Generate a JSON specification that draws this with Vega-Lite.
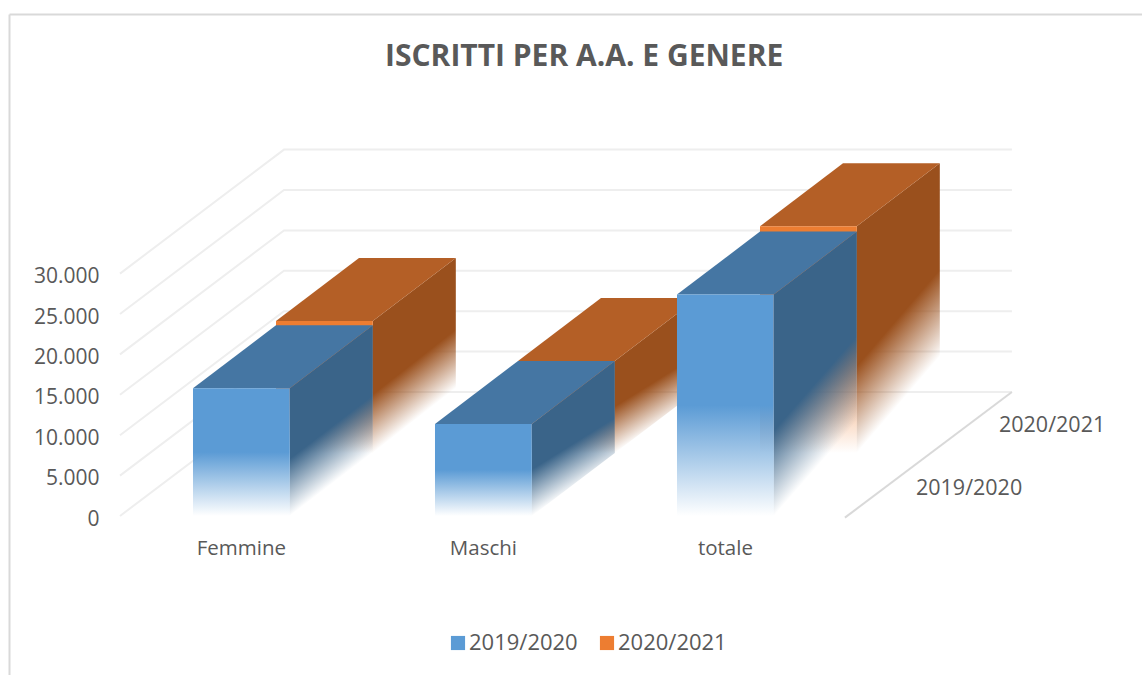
{
"$schema":"https://vega.github.io/schema/vega-lite/v6.json",
"width":1133,"height":661,
"padding":{"left":9,"top":14,"right":0,"bottom":0},
"autosize":"none",
"background":"white",
"config":{"view":{"stroke":null},"font":"Open Sans"},
"title":{"text":"ISCRITTI PER A.A. E GENERE","anchor":"start","frame":"group","dx":376,"dy":58,"offset":0,"fontSize":30,"font":"Open Sans","fontWeight":"bold","color":"#595959"},
"datasets":{
"bars":[
{"category":"Femmine","year":"2019/2020","value":15800},
{"category":"Maschi","year":"2019/2020","value":11400},
{"category":"totale","year":"2019/2020","value":27400},
{"category":"Femmine","year":"2020/2021","value":16350},
{"category":"Maschi","year":"2020/2021","value":11400},
{"category":"totale","year":"2020/2021","value":28050}],
"ticks":[{"tick":0},{"tick":5000},{"tick":10000},{"tick":15000},{"tick":20000},{"tick":25000},{"tick":30000}]
},
"data":{"name":"bars"},
"transform":[
{"calculate":"indexof(['Femmine','Maschi','totale'],datum.category)","as":"i"},
{"calculate":"datum.year==='2019/2020'?0:1","as":"s"}
],
"encoding":{
"x":{"field":"xx","type":"quantitative","scale":{"domain":[-0.7603,3.9215],"nice":false,"zero":false},
"axis":{"orient":"top","title":null,"labels":false,"ticks":false,"grid":false,"domain":true,"domainColor":"#d9d9d9","domainWidth":2}},
"y":{"field":"yy","type":"quantitative","scale":{"domain":[-19678,62129],"nice":false,"zero":false},
"axis":{"title":null,"values":[0,5000,10000,15000,20000,25000,30000],"domain":true,"domainColor":"#d9d9d9","domainWidth":2,"ticks":false,"grid":false,"labelPadding":-90,"labelOffset":3,"labelFont":"Open Sans","labelFontSize":21,"labelColor":"#595959","labelExpr":"replace(format(datum.value,','),',','.')"}}
},
"layer":[
{"data":{"name":"ticks"},
"transform":[{"calculate":"[0,1,2]","as":"d"},{"flatten":["d"]},
{"calculate":"[-0.3017,0.376,3.384][datum.d]","as":"xx"},
{"calculate":"datum.tick+(datum.d>0?15347:0)","as":"yy"}],
"mark":{"type":"line","stroke":"#eeeeee","strokeWidth":2},
"encoding":{"detail":{"field":"tick"}}},
{"data":{"values":[{"corner":0},{"corner":1}]},
"transform":[{"calculate":"[2.694,3.384][datum.corner]","as":"xx"},{"calculate":"[-200,15347][datum.corner]","as":"yy"}],
"mark":{"type":"line","stroke":"#d9d9d9","strokeWidth":2},"encoding":{}},

{"transform":[{"filter":"datum.s===1"},{"calculate":"[0,1]","as":"d"},{"flatten":["d"]},
{"calculate":"datum.i+datum.s*0.343+0.4+datum.d*0.343","as":"xx"},
{"calculate":"datum.value+(datum.s+datum.d)*7797","as":"yy"},
{"calculate":"(datum.s+datum.d)*7797","as":"yb"}],
"mark":{"type":"area","fill":{"gradient":"linear","x1":0,"y1":0,"x2":0.3,"y2":0.9,"stops":[{"offset":0,"color":"#9A501D"},{"offset":0.7,"color":"#9A501D"},{"offset":1,"color":"rgba(154,80,29,0)"}]}},
"encoding":{"y2":{"field":"yb"},"detail":{"field":"category"}}},
{"transform":[{"filter":"datum.s===1"},{"calculate":"[0,1]","as":"d"},{"flatten":["d"]},
{"calculate":"datum.i+datum.s*0.343+datum.d*0.343","as":"xx"},
{"calculate":"datum.xx+0.4","as":"xr"},
{"calculate":"datum.value+(datum.s+datum.d)*7797","as":"yy"}],
"mark":{"type":"area","orient":"horizontal","fill":"#B45F26"},
"encoding":{"x2":{"field":"xr"},"detail":{"field":"category"}}},
{"transform":[{"filter":"datum.s===1"},
{"calculate":"datum.i+datum.s*0.343","as":"xx"},
{"calculate":"datum.xx+0.4","as":"xr"},
{"calculate":"datum.value+datum.s*7797","as":"yy"},
{"calculate":"datum.s*7797","as":"yb"}],
"mark":{"type":"rect","fill":{"gradient":"linear","x1":0,"y1":0,"x2":0,"y2":1,"stops":[{"offset":0,"color":"#ED7D31"},{"offset":0.5,"color":"#ED7D31"},{"offset":1,"color":"rgba(237,125,49,0)"}]}},
"encoding":{"x2":{"field":"xr"},"y2":{"field":"yb"}}},

{"transform":[{"filter":"datum.s===0"},{"calculate":"[0,1]","as":"d"},{"flatten":["d"]},
{"calculate":"datum.i+datum.s*0.343+0.4+datum.d*0.343","as":"xx"},
{"calculate":"datum.value+(datum.s+datum.d)*7797","as":"yy"},
{"calculate":"(datum.s+datum.d)*7797","as":"yb"}],
"mark":{"type":"area","fill":{"gradient":"linear","x1":0,"y1":0,"x2":0.3,"y2":0.9,"stops":[{"offset":0,"color":"#3A6489"},{"offset":0.7,"color":"#3A6489"},{"offset":1,"color":"rgba(58,100,137,0)"}]}},
"encoding":{"y2":{"field":"yb"},"detail":{"field":"category"}}},
{"transform":[{"filter":"datum.s===0"},{"calculate":"[0,1]","as":"d"},{"flatten":["d"]},
{"calculate":"datum.i+datum.s*0.343+datum.d*0.343","as":"xx"},
{"calculate":"datum.xx+0.4","as":"xr"},
{"calculate":"datum.value+(datum.s+datum.d)*7797","as":"yy"}],
"mark":{"type":"area","orient":"horizontal","fill":"#4576A3"},
"encoding":{"x2":{"field":"xr"},"detail":{"field":"category"}}},
{"transform":[{"filter":"datum.s===0"},
{"calculate":"datum.i","as":"xx"},
{"calculate":"datum.xx+0.4","as":"xr"},
{"calculate":"datum.value","as":"yy"},
{"calculate":"0","as":"yb"}],
"mark":{"type":"rect","fill":{"gradient":"linear","x1":0,"y1":0,"x2":0,"y2":1,"stops":[{"offset":0,"color":"#5B9BD5"},{"offset":0.5,"color":"#5B9BD5"},{"offset":1,"color":"rgba(91,155,213,0)"}]}},
"encoding":{"x2":{"field":"xr"},"y2":{"field":"yb"}}},

{"transform":[{"calculate":"datum.i","as":"xx"},{"calculate":"datum.value","as":"yy"}],
"mark":{"type":"point","opacity":0,"filled":true},
"encoding":{
"color":{"field":"year","type":"nominal","scale":{"domain":["2019/2020","2020/2021"],"range":["#5B9BD5","#ED7D31"]},
"legend":{"title":null,"orient":"none","legendX":438,"legendY":618,"direction":"horizontal","columns":2,"symbolType":"square","symbolSize":200,"symbolOpacity":1,"symbolStrokeWidth":0,"labelFont":"Open Sans","labelFontSize":22,"labelColor":"#595959","labelOffset":0,"columnPadding":18,
"encoding":{"symbols":{"fill":{"value":{"expr":"{gradient:'linear',x1:0,y1:0,x2:0,y2:1,stops:[{offset:0,color:datum.value==='2019/2020'?'#5B9BD5':'#ED7D31'},{offset:0.6,color:datum.value==='2019/2020'?'#5B9BD5':'#ED7D31'},{offset:1,color:'rgba(255,255,255,0)'}]}"}}}}}}}},

{"transform":[{"filter":"datum.s===0"},{"calculate":"datum.i+0.2","as":"xx"},{"calculate":"-4030","as":"yy"}],
"mark":{"type":"text","font":"Open Sans","fontSize":20.5,"color":"#595959","align":"center","baseline":"middle"},
"encoding":{"text":{"field":"category"}}},
{"transform":[{"filter":"datum.i===0"},{"calculate":"3.207+datum.s*0.343","as":"xx"},{"calculate":"3400+datum.s*7797","as":"yy"}],
"mark":{"type":"text","font":"Open Sans","fontSize":21.5,"color":"#595959","align":"center","baseline":"middle"},
"encoding":{"text":{"field":"year"}}}
]
}
